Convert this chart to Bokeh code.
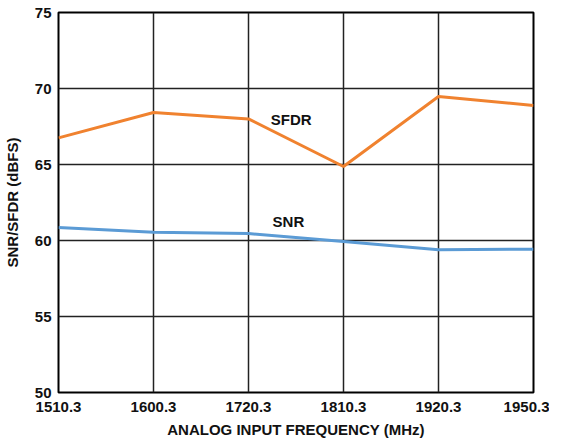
from bokeh.plotting import figure
from bokeh.models import Range1d, FixedTicker, ColumnDataSource
from bokeh.core.properties import value
from bokeh.embed import file_html
from bokeh.resources import INLINE

freq_labels = ["1510.3", "1600.3", "1720.3", "1810.3", "1920.3", "1950.3"]
sfdr = [66.75, 68.42, 68.0, 64.87, 69.47, 68.88]
snr = [60.86, 60.55, 60.46, 59.93, 59.39, 59.43]
y_ticks = [50, 55, 60, 65, 70, 75]

x = list(range(len(freq_labels)))
FONT = "Liberation Sans"

p = figure(frame_width=475, frame_height=380, output_backend="svg", toolbar_location=None,
           x_range=Range1d(0, len(freq_labels) - 1), y_range=Range1d(50, 75),
           min_border_left=57, min_border_right=16, min_border_top=12, min_border_bottom=36)

p.line(x, sfdr, line_color="#F0822F", line_width=3)
p.line(x, snr, line_color="#5B9BD5", line_width=3)

src = ColumnDataSource(dict(x=[2.45, 2.42], y=[67.95, 61.25], t=["SFDR", "SNR"]))
p.text(x="x", y="y", text="t", source=src, text_align="center", text_baseline="middle",
       text_font=value(FONT), text_font_style="bold", text_font_size="15px", text_color="#111111")

p.xaxis.ticker = FixedTicker(ticks=x)
p.xaxis.major_label_overrides = {i: s for i, s in enumerate(freq_labels)}
p.yaxis.ticker = FixedTicker(ticks=y_ticks)

for ax in (p.xaxis[0], p.yaxis[0]):
    ax.axis_line_color = None
    ax.major_tick_line_color = None
    ax.minor_tick_line_color = None
    ax.major_tick_out = 0
    ax.major_tick_in = 0
    ax.major_label_text_font = FONT
    ax.major_label_text_font_style = "bold"
    ax.major_label_text_font_size = "15px"
    ax.major_label_text_color = "#111111"
    ax.axis_label_text_font = FONT
    ax.axis_label_text_font_style = "bold"
    ax.axis_label_text_font_size = "15px"
    ax.axis_label_text_color = "#111111"

p.xaxis.axis_label = "ANALOG INPUT FREQUENCY (MHz)"
p.yaxis.axis_label = "SNR/SFDR (dBFS)"
p.xaxis.major_label_standoff = 9
p.xaxis.axis_label_standoff = 6
p.yaxis.major_label_standoff = 7
p.yaxis.axis_label_standoff = 11

p.xgrid.grid_line_color = "#222222"
p.ygrid.grid_line_color = "#222222"
p.xgrid.grid_line_width = 1.5
p.ygrid.grid_line_width = 1.5
p.outline_line_color = "black"
p.outline_line_width = 2
p.outline_line_alpha = 1

open("out.html", "w").write(file_html(p, INLINE))
